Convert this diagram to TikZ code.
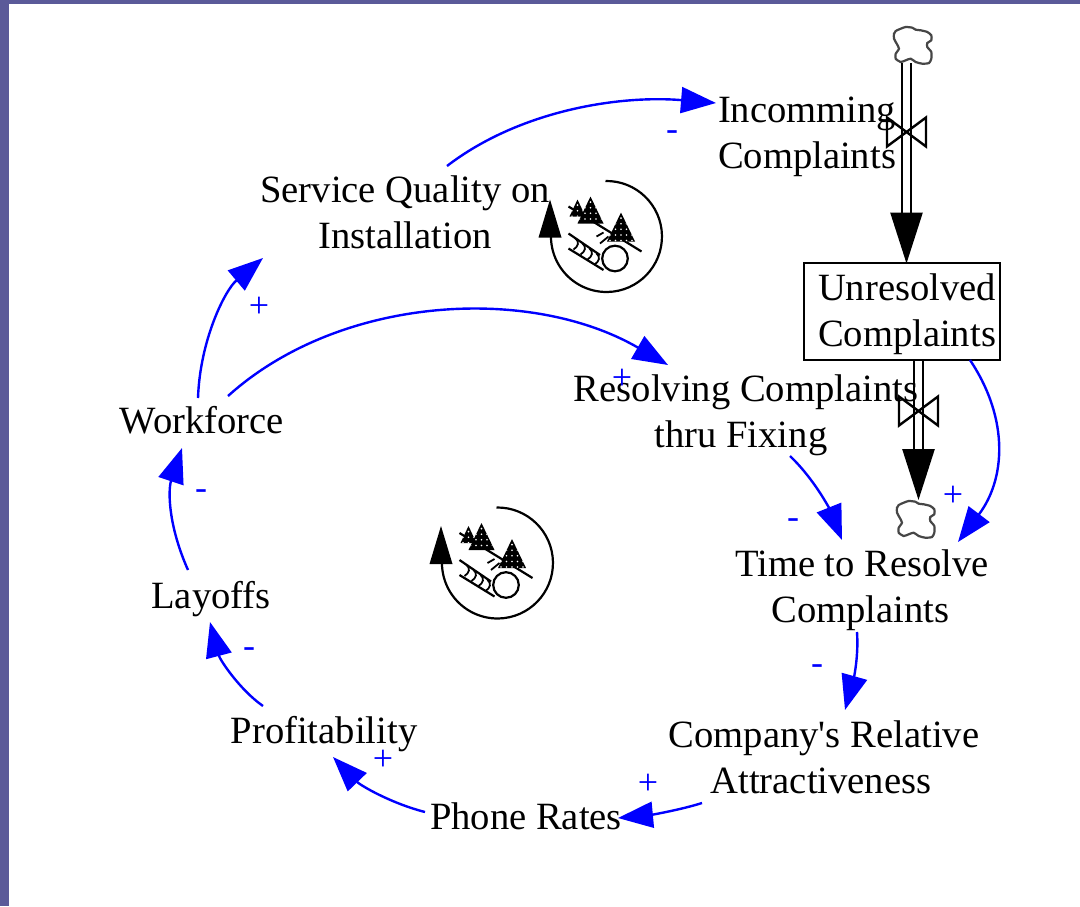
\documentclass[tikz,border=0pt]{standalone}
\usepackage{fontspec}
\setmainfont{Liberation Serif}
\newfontfamily\plainserif{Liberation Serif}
\usetikzlibrary{arrows.meta,calc}
\definecolor{framecol}{RGB}{91,90,153}
\definecolor{linkblue}{RGB}{0,0,255}
\definecolor{cloudgray}{RGB}{70,70,70}
\tikzset{
  lbl/.style={font=\plainserif\fontsize{38.6}{46}\selectfont,align=center,inner sep=1pt,outer sep=0pt},
  link/.style={draw=linkblue,line width=2.4pt,-{Triangle[length=35pt,width=26pt,fill=linkblue]}},
  sign/.style={text=linkblue,font=\fontsize{36}{36}\selectfont,inner sep=0pt},
  flowpipe/.style={line width=2.6pt,draw=black,double=white,double distance=6.4pt,-{Triangle[length=51pt,width=32pt,fill=black]}},
  valvepath/.style={draw=black,line width=2.4pt,line join=miter,fill=none},
  cloudpath/.style={draw=cloudgray,line width=2.2pt,fill=white},
  loopline/.style={draw=black,line width=2.2pt},
}
\newcommand{\cloudat}[2]{%
  \begin{scope}[shift={(#1,#2)}]
  \draw[cloudpath] plot[smooth cycle,tension=0.4] coordinates {(1.7,4)(6.7,1.7)(11.7,0)(18.3,.7)(21.7,2.7)(26.7,3.3)(33.3,5)(37.3,8.3)(37.3,13.3)(33.3,16)(33.3,20)(37.3,25)(37.3,31.7)(35,36)(28.3,36.7)(21.7,35)(16.7,31.7)(11.7,33.3)(6.7,35)(1.7,31.7)(1.7,26.7)(5,21.7)(2.7,16.7)(0,11.7)(0,6.7)};
  \end{scope}}
\newcommand{\valveat}[2]{%
  \begin{scope}[shift={(#1,#2)}]
  \draw[valvepath] (-19.5,-14.5) -- (19.5,14.5) -- (19.5,-14.5) -- (-19.5,14.5) -- cycle;
  \end{scope}}
\newcommand{\treeshape}[4]{% apex x, apex y, half width, height
  \begin{scope}
  \fill[black] (#1,#2) -- (#1+#3,#2+#4) -- (#1-#3,#2+#4) -- cycle;
  \clip (#1,#2) -- (#1+#3,#2+#4) -- (#1-#3,#2+#4) -- cycle;
  \foreach \ii in {-3,...,3}{\foreach \jj in {1,...,5}{
    \fill[white] (#1+\ii*5.5,#2+\jj*5.6) circle[radius=.9pt];}}
  \end{scope}}
\newcommand{\loopicon}[2]{%
  \begin{scope}[shift={(#1,#2)}]
  \draw[loopline] (-1,-55.5) arc[start angle=91,end angle=-180,radius=55.5pt];
  \fill[black] (-56.5,-37) -- (-45,1) -- (-68,1) -- cycle;
  \draw[black,line width=2.2pt] (-38,-30) -- (35,15);
  \treeshape{-29}{-37}{8}{17}
  \treeshape{-16}{-40}{13}{27}
  \treeshape{14.5}{-24}{14}{29}
  \draw[black,line width=2.2pt,fill=white] (8.5,22) circle[radius=12.8pt];
  \draw[black,line width=2.2pt] (-38,-3) -- (-6.5,18.5);
  \draw[black,line width=2.2pt] (-38,12) -- (-3,33.5);
  \foreach \cx/\cy in {-31/2,-24/7,-17/12,-10/17}{
    \draw[black,line width=1.8pt] (\cx,\cy) .. controls (\cx+4,\cy+3) and (\cx+3,\cy+8) .. (\cx-2,\cy+11);
  }
  \draw[black,line width=1.8pt] (-6.5,7) -- (2,0);
  \draw[black,line width=1.8pt] (-10,0) -- (-3,-4);
  \end{scope}}
\begin{document}
\begin{tikzpicture}[x=1pt,y=-1pt]
\useasboundingbox (0,0) rectangle (1080,906);
\fill[white] (0,0) rectangle (1080,906);
\fill[framecol] (0,0) rectangle (1080,4);
\fill[framecol] (0,0) rectangle (9,906);

% stock
\node[draw=black,line width=2.5pt,fill=white,minimum width=196pt,minimum height=97pt,inner sep=0pt,font=\fontsize{38.6}{46}\selectfont,align=center] (unres) at (902,311.5) {\rule{0pt}{32.4pt}\hspace*{10pt}Unresolved\\\hspace*{10pt}Complaints};

% clouds
\cloudat{894}{27}
\cloudat{897}{501}
\coordinate (cloudtopc) at (906.5,63);
\coordinate (cloudbotc) at (918.5,500);
\draw[flowpipe] (cloudtopc) -- (906.5,263.5);
\draw[flowpipe] (918.5,361) -- (cloudbotc);

% nodes
\node[lbl] (incoming) at (807,137) {Incomming\\Complaints};
\node[lbl] (quality) at (405,212) {Service Quality on\\Installation};
\node[lbl] (workforce) at (202,420) {Workforce};
\node[lbl] (layoffs) at (211,599) {Layoffs};
\node[lbl] (profit) at (324,734) {Profitability};
\node[lbl] (phone) at (526,816) {Phone Rates};
\node[lbl] (company) at (824,757) {Company's Relative\\Attractiveness\hspace*{6pt}};
\node[lbl] (time) at (862,590) {Time to Resolve\\Complaints\hspace*{3pt}};
\node[lbl] (resolving) at (746,415) {Resolving Complaints\\thru Fixing\hspace*{10pt}};

\valveat{906.5}{132}
\valveat{918.5}{411}

% links
\draw[link] ($(quality)+(42,-46)$) .. controls (520,110) and (620,95) .. ($(incoming)+(-91,-34)$);
\draw[link] ($(workforce)+(-4,-22)$) .. controls (200,340) and (225,290) .. ($(quality)+(-142,46)$);
\draw[link] ($(workforce)+(26,-24)$) .. controls (340,295) and (530,285) .. ($(resolving)+(-78,-50)$);
\draw[link] ($(resolving)+(44,41)$) .. controls (815,480) and (830,510) .. ($(time)+(-20,-50)$);
\draw[link] ($(unres)+(68,48.5)$) .. controls (1010,420) and (1005,480) .. ($(time)+(96,-48)$);
\draw[link] ($(time)+(-5,42)$) .. controls (859,660) and (852,685) .. ($(company)+(21,-47)$);
\draw[link] ($(company)+(-122,46)$) .. controls (680,810) and (650,815) .. ($(phone)+(92,2)$);
\draw[link] ($(phone)+(-101,-4)$) .. controls (390,803) and (360,785) .. ($(profit)+(9,23)$);
\draw[link] ($(profit)+(-61,-28)$) .. controls (240,690) and (220,660) .. ($(layoffs)+(-1,23)$);
\draw[link] ($(layoffs)+(-23,-29)$) .. controls (168,525) and (168,490) .. ($(workforce)+(-20,28)$);

% signs
\node[sign] (s1) at (672,136) {-};
\node[sign] (s2) at (259,307) {+};
\node[sign] (s3) at (622,379) {+};
\node[sign] (s4) at (793,524) {-};
\node[sign] (s5) at (953,496) {+};
\node[sign] (s6) at (817,670) {-};
\node[sign] (s7) at (648,784) {+};
\node[sign] (s8) at (249,653) {-};
\node[sign] (s9) at (383,760) {+};
\node[sign] (s10) at (201,495) {-};

\loopicon{606.5}{236.5}
\loopicon{497.5}{563}
\end{tikzpicture}
\end{document}
